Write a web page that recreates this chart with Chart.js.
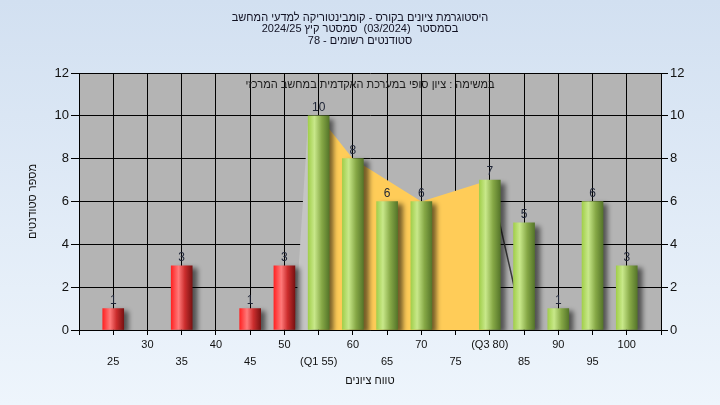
<!DOCTYPE html>
<html>
<head>
<meta charset="utf-8">
<script src="https://cdn.jsdelivr.net/npm/chart.js@4"></script>
<style>
  html, body { margin: 0; padding: 0; }
  body { width: 720px; height: 405px; background: linear-gradient(#d2e0f1, #eef5fc); }
  #wrap { width: 720px; height: 405px; }
</style>
</head>
<body>
<div id="wrap"><canvas id="grades-chart"></canvas></div>
<script>
// grade buckets and number of students in each
let grades = [25, 35, 45, 50, 55, 60, 65, 70, 80, 85, 90, 95, 100]
let counts = [1, 3, 1, 3, 10, 8, 6, 6, 7, 5, 1, 6, 3]
let passGrade = 55

// yellow band between the quartiles
let bandX = [55, 60, 70, 80]
let bandY = [10, 8, 6, 7]
// lighter side of the band and its back edge
let sideX = [51.5, 53.5]
let sideY = [0, 10]
let edgeX = [80, 85]
let edgeY = [7, 0]

let quartileTicks = [55, 80]
let quartileNames = ['Q1', 'Q3']

let titleLines = [
    'היסטוגרמת ציונים בקורס - קומבינטוריקה למדעי המחשב',
    'בסמסטר  (03/2024)  סמסטר קיץ 2024/25',
    'סטודנטים רשומים - 78'
]
let noteText = 'במשימה : ציון סופי במערכת האקדמית במחשב המרכזי'
let xTitle = 'טווח ציונים'
let yTitle = 'מספר סטודנטים'

const FONT = '"Liberation Sans", "DejaVu Sans", sans-serif'

function toPoints(xs, ys) {
    return xs.map((x, i) => ({x: x, y: ys[i]}))
}

// cylinder look for the bars
function barColor(context) {
    let chart = context.chart
    let xScale = chart.scales.x
    let raw = context.raw
    let red = raw && raw.x < passGrade
    let flat = red ? '#e03030' : '#90c050'
    if (!xScale || !raw) return flat
    let cx = xScale.getPixelForValue(raw.x)
    if (!isFinite(cx)) return flat
    let g = chart.ctx.createLinearGradient(cx - 10.5, 0, cx + 10.5, 0)
    if (red) {
        g.addColorStop(0, '#ff2424')
        g.addColorStop(0.35, '#ff7a7a')
        g.addColorStop(0.65, '#cc2e2e')
        g.addColorStop(1, '#7a1212')
    } else {
        g.addColorStop(0, '#a2cf4c')
        g.addColorStop(0.3, '#c8e88a')
        g.addColorStop(0.65, '#86a846')
        g.addColorStop(1, '#56762a')
    }
    return g
}

const plotBackground = {
    id: 'plotBackground',
    beforeDraw(chart) {
        let {ctx, chartArea} = chart
        ctx.save()
        ctx.fillStyle = '#b4b4b4'
        ctx.fillRect(chartArea.left, chartArea.top, chartArea.width, chartArea.height)
        ctx.restore()
    }
}

const barShadow = {
    id: 'barShadow',
    beforeDatasetDraw(chart, args) {
        if (args.meta.type !== 'bar') return
        let ctx = chart.ctx
        ctx.save()
        ctx.shadowColor = 'rgba(0,0,0,0.55)'
        ctx.shadowBlur = 5
        ctx.shadowOffsetX = 5
        ctx.shadowOffsetY = 3
    },
    afterDatasetDraw(chart, args) {
        if (args.meta.type !== 'bar') return
        chart.ctx.restore()
    }
}

const valueLabels = {
    id: 'valueLabels',
    afterDatasetsDraw(chart) {
        let ctx = chart.ctx
        let meta = chart.getDatasetMeta(0)
        ctx.save()
        ctx.font = '12px ' + FONT
        ctx.fillStyle = '#1e2436'
        ctx.textAlign = 'center'
        ctx.textBaseline = 'bottom'
        meta.data.forEach(function(bar, i) {
            ctx.fillText(String(counts[i]), bar.x, bar.y - 2)
        })
        // note at the top of the plot
        let area = chart.chartArea
        ctx.font = '11px ' + FONT
        ctx.fillStyle = '#1a1a1a'
        ctx.textBaseline = 'middle'
        ctx.fillText(noteText, (area.left + area.right) / 2, area.top + 12)
        ctx.restore()
    }
}

let ctx = document.querySelector('#grades-chart').getContext('2d')

let gradesChart = new Chart(ctx, {
    type: 'bar',
    data: {
        datasets: [
            {
                type: 'bar',
                data: toPoints(grades, counts),
                backgroundColor: barColor,
                borderWidth: 0,
                barThickness: 21,
                order: 0
            },
            {
                type: 'line',
                data: toPoints(edgeX, edgeY),
                borderColor: '#3a3a3a',
                borderWidth: 1.5,
                pointRadius: 0,
                fill: false,
                order: 1
            },
            {
                type: 'line',
                data: toPoints(bandX, bandY),
                borderWidth: 0,
                borderColor: 'rgba(0,0,0,0)',
                backgroundColor: '#ffcc58',
                pointRadius: 0,
                tension: 0,
                fill: 'origin',
                order: 2
            },
            {
                type: 'line',
                data: toPoints(sideX, sideY),
                borderWidth: 0,
                borderColor: 'rgba(0,0,0,0)',
                backgroundColor: '#c4c4c4',
                pointRadius: 0,
                fill: 'origin',
                order: 3
            }
        ]
    },
    options: {
        responsive: true,
        maintainAspectRatio: false,
        animation: false,
        layout: {padding: {left: 0, right: 0, top: 0, bottom: 10}},
        plugins: {
            legend: {display: false},
            tooltip: {enabled: false},
            title: {
                display: true,
                text: titleLines,
                color: '#111122',
                font: {family: FONT, size: 11, weight: 'normal', lineHeight: '11.5px'},
                padding: {top: 12, bottom: 26.5}
            }
        },
        scales: {
            x: {
                type: 'linear',
                min: 20,
                max: 105,
                offset: false,
                afterFit(scale) { scale.height = 65 },
                ticks: {
                    stepSize: 5,
                    autoSkip: false,
                    maxRotation: 0,
                    color: '#111111',
                    padding: 1.5,
                    font: {family: FONT, size: 11, lineHeight: 1.55},
                    callback: function(value) {
                        if (value <= 20 || value >= 105) return ''
                        let q = quartileTicks.indexOf(value)
                        let text = q >= 0 ? '(' + quartileNames[q] + ' ' + value + ')' : String(value)
                        return (value / 5) % 2 === 1 ? ['', text] : text
                    }
                },
                grid: {offset: false, color: '#000000', lineWidth: 1, tickLength: 5},
                border: {color: '#000000', width: 1},
                title: {
                    display: true,
                    text: xTitle,
                    color: '#111111',
                    font: {family: FONT, size: 11},
                    padding: {top: 0, bottom: 7}
                }
            },
            y: {
                position: 'left',
                min: 0,
                max: 12,
                afterFit(scale) { scale.width = 79 },
                ticks: {stepSize: 2, color: '#111111', padding: 2, font: {family: FONT, size: 13}},
                grid: {color: '#000000', lineWidth: 1, tickLength: 8},
                border: {color: '#000000', width: 1},
                title: {
                    display: true,
                    text: yTitle,
                    color: '#111111',
                    font: {family: FONT, size: 11},
                    padding: {top: 26, bottom: 0}
                }
            },
            y2: {
                position: 'right',
                min: 0,
                max: 12,
                afterFit(scale) { scale.width = 59 },
                ticks: {stepSize: 2, color: '#111111', padding: 2, font: {family: FONT, size: 13}},
                grid: {drawOnChartArea: false, color: '#000000', tickLength: 7},
                border: {color: '#000000', width: 1}
            }
        }
    },
    plugins: [plotBackground, barShadow, valueLabels]
})
gradesChart.update()
</script>
</body>
</html>
